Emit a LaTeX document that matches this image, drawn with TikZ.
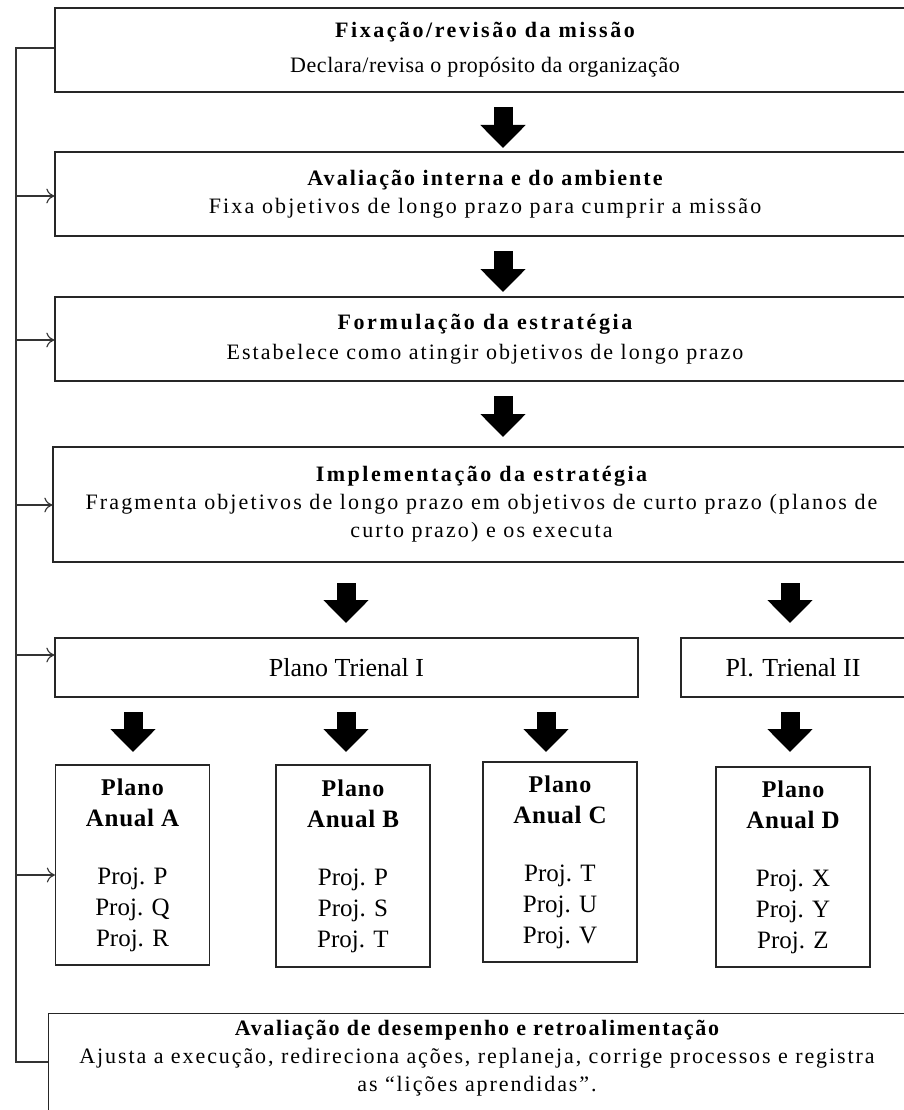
\documentclass[tikz,border=0pt]{standalone}
\usepackage{fontspec}
\setmainfont{Liberation Serif}
\usetikzlibrary{arrows.meta}
\newcommand\lsp[2]{{\addfontfeatures{LetterSpace=#1}#2}}
\begin{document}
\begin{tikzpicture}[x=1pt,y=-1pt,
  box/.style={draw=black!85, line width=1.3pt, align=center, inner sep=0pt, fill=white,
    font=\fontsize{22}{28}\selectfont},
  txt/.style={align=center, inner sep=0pt, font=\fontsize{22}{28}\selectfont},
  annual/.style={box, minimum width=154pt, minimum height=200pt, font=\fontsize{25}{31}\selectfont},
  trien/.style={box, minimum height=59pt, font=\fontsize{26}{30}\selectfont},
  bigarrow/.style={line width=19pt, black, -{Triangle[width=44pt,length=23pt]}},
  fbline/.style={draw=black!80, line width=1.1pt},
  fbarrow/.style={fbline, -{To[length=8pt,width=15pt]}}
]
\useasboundingbox (0,0) rectangle (904,1110);
\clip (0,0) rectangle (904,1110);

% main boxes
\node[box, minimum width=860pt, minimum height=84pt, font=\fontsize{22}{35}\selectfont] (b1) at (485,50)
  {\lsp{11.5}{\bfseries Fixação/revisão da missão}\\\lsp{2.5}{Declara/revisa o propósito da organização}};
\node[box, minimum width=860pt, minimum height=84pt] (b2) at (485,194)
  {\lsp{9.4}{\bfseries Avaliação interna e do ambiente}\\\lsp{9.8}{Fixa objetivos de longo prazo para cumprir a missão}};
\node[box, minimum width=860pt, minimum height=84pt, font=\fontsize{22}{30}\selectfont] (b3) at (485,339)
  {\lsp{12}{\bfseries Formulação da estratégia}\\\lsp{9.2}{Estabelece como atingir objetivos de longo prazo}};
\node[box, minimum width=857pt, minimum height=115pt] (b4) at (481.5,504.5)
  {\lsp{11.4}{\bfseries Implementação da estratégia}\\\lsp{9.6}{Fragmenta objetivos de longo prazo em  objetivos de curto prazo (planos de}\\\lsp{9.6}{curto prazo) e os executa}};

% triennial plans
\node[trien, minimum width=583pt] (t1) at (346.5,667.5) {Plano Trienal I};
\node[trien, minimum width=224pt] (t2) at (793,667.5) {Pl. Trienal II};

% annual plans
\tikzset{anntext/.style={}}
\node[annual] (pa) at (132.5,865) {\fontsize{24}{31}\selectfont\lsp{4}{\bfseries Plano}\\\lsp{3}{\bfseries Anual A}\\[27pt]Proj. P\\Proj. Q\\Proj. R};
\node[annual, minimum height=202pt] (pb) at (353,866) {\fontsize{24}{31}\selectfont\lsp{4}{\bfseries Plano}\\\lsp{3}{\bfseries Anual B}\\[27pt]Proj. P\\Proj. S\\Proj. T};
\node[annual] (pc) at (560,862) {\fontsize{24}{31}\selectfont\lsp{4}{\bfseries Plano}\\\lsp{3}{\bfseries Anual C}\\[27pt]Proj. T\\Proj. U\\Proj. V};
\node[annual] (pd) at (793,867) {\fontsize{24}{31}\selectfont\lsp{4}{\bfseries Plano}\\\lsp{3}{\bfseries Anual D}\\[27pt]Proj. X\\Proj. Y\\Proj. Z};

% evaluation box
\node[box, minimum width=858pt, minimum height=130pt, anchor=north west] (b6) at (48,1013) {};
\node[txt] (b6t) at (477,1058)
  {\lsp{7.7}{\bfseries Avaliação de desempenho e retroalimentação}\\\lsp{8.7}{Ajusta a execução, redireciona ações, replaneja, corrige processos e registra}\\\lsp{8.7}{as ``lições aprendidas''.}};

% big arrows
\draw[bigarrow] (503,107) -- (503,148);
\draw[bigarrow] (503,251) -- (503,292);
\draw[bigarrow] (503,396) -- (503,437);
\draw[bigarrow] (346,583) -- (346,623);
\draw[bigarrow] (790,583) -- (790,623);
\draw[bigarrow] (133,712) -- (133,752);
\draw[bigarrow] (346,712) -- (346,752);
\draw[bigarrow] (546,712) -- (546,752);
\draw[bigarrow] (790,712) -- (790,752);

% feedback loop
\coordinate (fbtop) at (16,48);
\coordinate (fbbot) at (16,1062);
\draw[fbline] (b1.west |- 0,48) -- (fbtop) -- (fbbot) -- (b6.west |- 0,1062);
\draw[fbarrow] (16,196) -- (b2.west |- 0,196);
\draw[fbarrow] (16,340) -- (b3.west |- 0,340);
\draw[fbarrow] (16,505) -- (b4.west |- 0,505);
\draw[fbarrow] (16,655) -- (t1.west |- 0,655);
\draw[fbarrow] (16,875) -- (pa.west |- 0,875);
\end{tikzpicture}
\end{document}
